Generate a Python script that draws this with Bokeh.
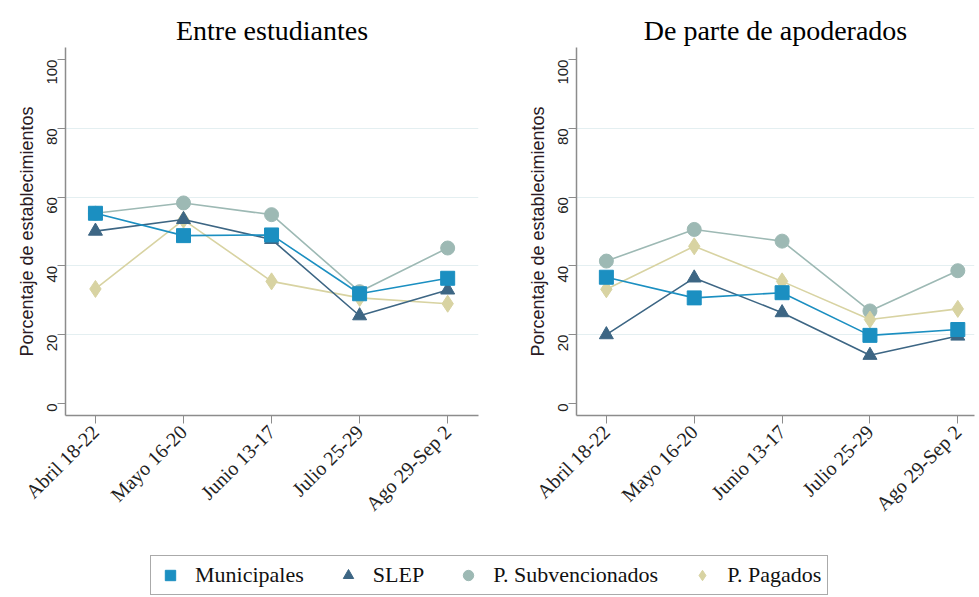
import math
from bokeh.plotting import figure
from bokeh.layouts import column, row
from bokeh.models import ColumnDataSource, Legend, LegendItem, FixedTicker, Range1d
from bokeh.embed import file_html
from bokeh.resources import INLINE

periods = ["Abril 18-22", "Mayo 16-20", "Junio 13-17", "Julio 25-29", "Ago 29-Sep 2"]
xpos = [1, 2, 3, 4, 5]
series_names = ["Municipales", "SLEP", "P. Subvencionados", "P. Pagados"]

est_municipales = [55.3, 48.8, 49.0, 31.9, 36.4]
est_slep = [50.1, 53.5, 47.7, 25.5, 33.0]
est_subvencionados = [55.3, 58.3, 54.9, 32.5, 45.2]
est_pagados = [33.3, 53.4, 35.5, 30.7, 29.0]

apo_municipales = [36.7, 30.7, 32.2, 19.8, 21.5]
apo_slep = [20.0, 36.5, 26.4, 14.0, 19.6]
apo_subvencionados = [41.4, 50.6, 47.2, 26.9, 38.6]
apo_pagados = [33.2, 45.7, 35.5, 24.4, 27.5]

y_ticks = [0, 20, 40, 60, 80, 100]

colors = ["#1b8fc1", "#3d6684", "#9db9b4", "#d8d3a2"]
markers = ["square", "triangle", "circle", "diamond"]
msizes = [14, 14, 14, 17]

SERIF = "Liberation Serif"
SANS = "Liberation Sans"


def make_panel(title, data, width, min_left, min_right, xend):
    p = figure(width=width, height=545, output_backend="svg", toolbar_location=None,
               x_range=Range1d(0.66, xend), y_range=Range1d(-3.5, 103.5),
               min_border_left=min_left, min_border_right=min_right,
               min_border_top=47, min_border_bottom=130)
    p.title.text = title
    p.title.text_font = SERIF
    p.title.text_font_size = "28px"
    p.title.text_font_style = "normal"
    p.title.align = "center"
    p.title.text_color = "#000000"
    p.title.standoff = 4
    p.outline_line_color = None
    p.background_fill_color = "white"
    p.border_fill_color = "white"

    # draw order: subv, pagados, slep, municipales (municipales on top)
    for idx in [2, 3, 1, 0]:
        src = ColumnDataSource(dict(x=xpos, y=data[idx]))
        p.line("x", "y", source=src, line_color=colors[idx], line_width=1.6)
        p.scatter("x", "y", source=src, marker=markers[idx], size=msizes[idx],
                  fill_color=colors[idx], line_color=colors[idx])

    p.xaxis.ticker = FixedTicker(ticks=xpos)
    p.xaxis.major_label_overrides = {x: lab for x, lab in zip(xpos, periods)}
    p.xaxis.major_label_orientation = math.pi / 4
    p.xaxis.major_label_text_font = SERIF
    p.xaxis.major_label_text_font_size = "20px"
    p.xaxis.major_label_text_color = "#222222"
    p.xaxis.minor_tick_line_color = None
    p.xaxis.major_tick_in = 0
    p.xaxis.major_tick_out = 8
    p.xaxis.axis_line_color = "#8c8c8c"
    p.xaxis.major_tick_line_color = "#8c8c8c"
    p.xaxis.axis_line_width = 1.5

    p.yaxis.ticker = FixedTicker(ticks=y_ticks)
    p.yaxis.major_label_orientation = math.pi / 2
    p.yaxis.major_label_text_font = SANS
    p.yaxis.major_label_text_font_size = "15px"
    p.yaxis.major_label_text_color = "#222222"
    p.yaxis.minor_tick_line_color = None
    p.yaxis.major_tick_in = 0
    p.yaxis.major_tick_out = 8
    p.yaxis.axis_line_color = "#8c8c8c"
    p.yaxis.major_tick_line_color = "#8c8c8c"
    p.yaxis.axis_line_width = 1.5
    p.yaxis.axis_label = "Porcentaje de establecimientos"
    p.yaxis.axis_label_text_font = SANS
    p.yaxis.axis_label_text_font_size = "18px"
    p.yaxis.axis_label_text_font_style = "normal"
    p.yaxis.axis_label_text_color = "#2a1a24"
    p.yaxis.axis_label_standoff = 3

    p.xgrid.grid_line_color = None
    p.ygrid.ticker = FixedTicker(ticks=[20, 40, 60, 80])
    p.ygrid.grid_line_color = "#e4eff1"
    p.ygrid.grid_line_width = 1.2
    return p


p1 = make_panel("Entre estudiantes",
                [est_municipales, est_slep, est_subvencionados, est_pagados],
                490, 65, 12, 5.35)
p2 = make_panel("De parte de apoderados",
                [apo_municipales, apo_slep, apo_subvencionados, apo_pagados],
                488, 86, 4, 5.19)

# legend panel (legend proxies use the series data, placed outside the visible range)
lg = figure(width=978, height=51, output_backend="svg", toolbar_location=None,
            x_range=Range1d(10, 11), y_range=Range1d(500, 501),
            min_border=0)
lg.axis.visible = False
lg.grid.visible = False
lg.outline_line_color = None
legend_data = [est_municipales, est_slep, est_subvencionados, est_pagados]
items = []
for i, name in enumerate(series_names):
    r = lg.scatter(x=xpos, y=legend_data[i], marker=markers[i], size=msizes[i],
                   fill_color=colors[i], line_color=colors[i])
    items.append(LegendItem(label=name, renderers=[r]))
legend = Legend(items=items, orientation="horizontal", location=(150, 1),
                spacing=31, padding=6, glyph_width=26, glyph_height=26,
                label_standoff=12, margin=0)
legend.label_text_font = SERIF
legend.label_text_font_size = "22px"
legend.label_text_color = "#111111"
legend.border_line_color = "#555555"
legend.border_line_width = 1.5
lg.add_layout(legend, "center")

layout = column(row(p1, p2), lg)
open("out.html", "w").write(file_html(layout, INLINE))
